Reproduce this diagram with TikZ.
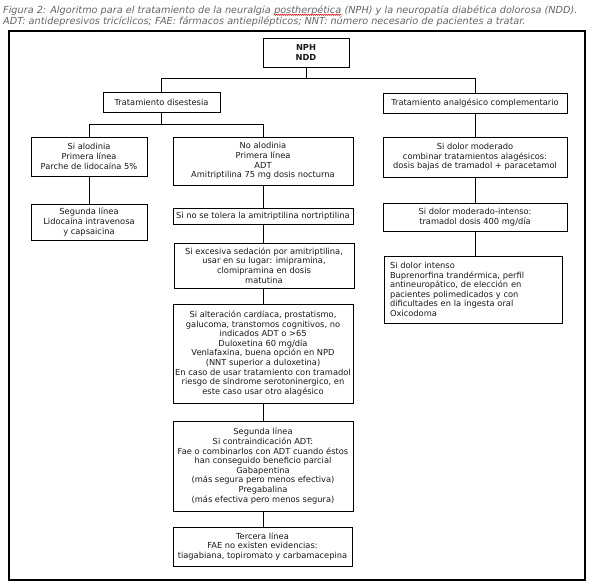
\documentclass[tikz,border=0pt]{standalone}
\usepackage{fontspec}
\setmainfont{DejaVu Sans}
\usetikzlibrary{decorations.pathmorphing}
\newcommand\mybox[7][]{%
  \pgfmathsetmacro\bxw{#5-#3}%
  \pgfmathsetmacro\bxh{#6-#4}%
  \node[box,minimum width=\bxw pt,minimum height=\bxh pt,#1] (#2) at ({(#3+#5)/2},{(#4+#6)/2}) {#7};}
\begin{document}
\begin{tikzpicture}[x=1pt,y=-1pt,
  box/.style={draw,line width=0.8pt,inner xsep=2pt,inner ysep=0pt,align=center,
    text=black!90,font=\fontsize{8.3}{9.6}\selectfont},
  captext/.style={inner sep=0pt,anchor=base west,text=black!60,font=\fontsize{9.7}{11.5}\selectfont\itshape},
  ln/.style={line width=0.8pt}]
\useasboundingbox (0,0) rectangle (595,587);
\fill[white] (0,0) rectangle (595,587);
\node[captext] (c1) at (3,13) {Figura 2: Algoritmo para el tratamiento de la neuralgia\ \hbox{}};
\node[captext] (c2) at (c1.base east) {postherpética};
\node[captext] (c3) at (c2.base east) {\hbox{}\ (NPH) y la neuropatía diabética dolorosa (NDD).};
\node[captext] (c4) at (3,24.5) {ADT: antidepresivos tricíclicos; FAE: fármacos antiepilépticos; NNT: número necesario de pacientes a tratar.};
\draw[red,line width=0.5pt,decorate,decoration={snake,amplitude=0.6pt,segment length=2pt}]
  ([yshift=-1.8pt]c2.base west) -- ([yshift=-1.8pt]c2.base east);
\draw[line width=1.2pt] (9,31) rectangle (585,580);
% boxes
\mybox[font=\fontsize{8.3}{9.6}\selectfont\bfseries]{nph}{263}{38}{349}{67}{NPH\\NDD}
\mybox{td}{103}{92}{220}{112}{Tratamiento disestesia}
\mybox{ta}{383}{93}{567}{113}{Tratamiento analgésico complementario}
\mybox{a1}{31}{137}{147}{176}{Si alodinia\\Primera línea\\Parche de lidocaína 5\%}
\mybox{a2}{31}{204}{147}{240}{Segunda línea\\Lidocaína intravenosa\\y capsaicina}
\mybox{m1}{173}{137}{353}{185}{No alodinia\\Primera línea\\ADT\\Amitriptilina 75 mg dosis nocturna}
\mybox{m2}{173}{208}{353}{224}{Si no se tolera la amitriptilina nortriptilina}
\mybox{m3}{174}{243}{354}{288}{Si excesiva sedación por amitriptilina,\\usar en su lugar: imipramina,\\clomipramina en dosis\\matutina}
\mybox{m4}{173}{304}{353}{403}{Si alteración cardíaca, prostatismo,\\galucoma, transtornos cognitivos, no\\indicados ADT o >65\\Duloxetina 60 mg/día\\Venlafaxina, buena opción en NPD\\(NNT superior a duloxetina)\\En caso de usar tratamiento con tramadol\\riesgo de síndrome serotoninergico, en\\este caso usar otro alagésico}
\mybox{m5}{173}{421}{353}{511}{Segunda línea\\Si contraindicación ADT:\\Fae o combinarlos con ADT cuando éstos\\han conseguido beneficio parcial\\Gabapentina\\(más segura pero menos efectiva)\\Pregabalina\\(más efectiva pero menos segura)}
\mybox{m6}{173}{527}{352}{566}{Tercera línea\\FAE no existen evidencias:\\tiagabiana, topiromato y carbamacepina}
\mybox{r1}{383}{137}{567}{177}{Si dolor moderado\\combinar tratamientos alagésicos:\\dosis bajas de tramadol + paracetamol}
\mybox{r2}{383}{203}{567}{231}{Si dolor moderado-intenso:\\tramadol dosis 400 mg/día}
\mybox[align=left,inner xsep=6pt,text width=166pt]{r3}{384}{256}{562}{323}{Si dolor intenso\\Buprenorfina trandérmica, perfil\\antineuropático, de elección en\\pacientes polimedicados y con\\dificultades en la ingesta oral\\Oxicodoma}
% connectors
\coordinate (j1) at (306,78);
\coordinate (j2) at (163,124);
\draw[ln] (nph.south) -- (j1);
\draw[ln] (td.north) -- (td.north |- j1) -- (ta.north |- j1) -- (ta.north);
\draw[ln] (td.south) -- (td.south |- j2);
\draw[ln] (a1.north) -- (a1.north |- j2) -- (m1.north |- j2) -- (m1.north);
\draw[ln] (a1.south) -- (a2.north);
\draw[ln] (m1.south) -- (m2.north);
\draw[ln] (m2.south) -- (m2.south |- m3.north);
\draw[ln] (m3.south -| m2.south) -- (m2.south |- m4.north);
\draw[ln] (m4.south) -- (m5.north);
\draw[ln] (m5.south) -- (m5.south |- m6.north);
\draw[ln] (ta.south) -- (r1.north);
\draw[ln] (r1.south) -- (r2.north);
\draw[ln] (r2.south) -- (r2.south |- r3.north);
\end{tikzpicture}
\end{document}
